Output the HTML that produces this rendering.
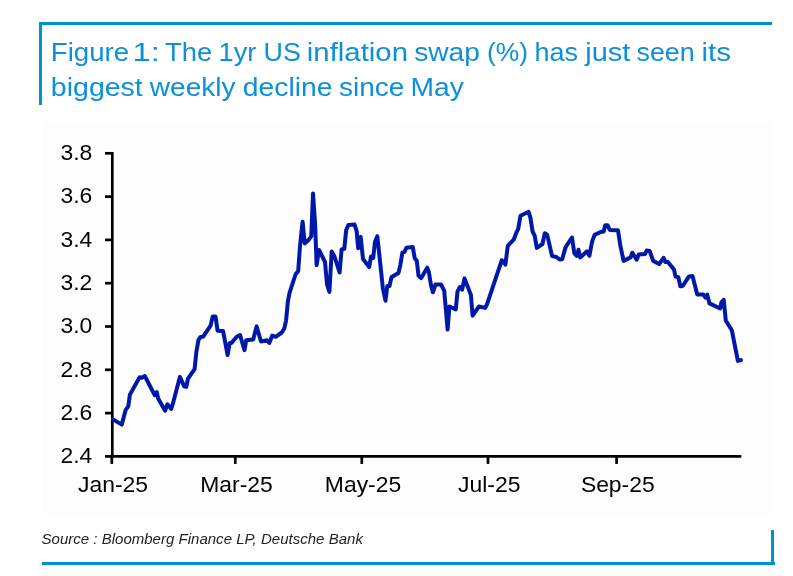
<!DOCTYPE html>
<html><head><meta charset="utf-8"><title>Figure 1</title>
<style>
html,body{margin:0;padding:0;background:#fff;}
body{width:793px;height:576px;position:relative;overflow:hidden;font-family:"Liberation Sans",sans-serif;}
.bl{position:absolute;background:#0090d7;}
.src{position:absolute;left:41.5px;top:528.5px;font-size:15px;line-height:20px;font-style:italic;color:#222;white-space:nowrap;letter-spacing:0.015px;}
</style></head><body>
<div class="bl" style="left:39px;top:22px;width:733px;height:3px"></div>
<div class="bl" style="left:39px;top:22px;width:3px;height:82.8px"></div>
<div class="bl" style="left:42px;top:562px;width:733px;height:3px"></div>
<div class="bl" style="left:771px;top:530px;width:3px;height:34px"></div>
<svg width="793" height="576" viewBox="0 0 793 576" style="position:absolute;left:0;top:0">
<rect x="42" y="122" width="729.5" height="392.2" fill="#fdfdfd"/>
<g font-family="Liberation Sans, sans-serif" font-size="26.6" fill="#0c90d8">
<text id="w0" transform="translate(50.76,60.8) scale(1.0412,1)">Figure</text>
<text id="w1" transform="translate(132.62,60.8) scale(1.2204,1)">1:</text>
<text id="w2" transform="translate(165.02,60.8) scale(1.0283,1)">The</text>
<text id="w3" transform="translate(218.62,60.8) scale(1.0215,1)">1yr</text>
<text id="w4" transform="translate(263.56,60.8) scale(1.0112,1)">US</text>
<text id="w5" transform="translate(306.79,60.8) scale(1.1042,1)">inflation</text>
<text id="w6" transform="translate(414.22,60.8) scale(1.0592,1)">swap</text>
<text id="w7" transform="translate(487.01,60.8) scale(0.9945,1)">(%)</text>
<text id="w8" transform="translate(534.45,60.8) scale(1.0150,1)">has</text>
<text id="w9" transform="translate(585.29,60.8) scale(1.0873,1)">just</text>
<text id="w10" transform="translate(636.55,60.8) scale(1.0073,1)">seen</text>
<text id="w11" transform="translate(701.51,60.8) scale(1.1107,1)">its</text>
<text id="w12" transform="translate(50.86,95.8) scale(1.0719,1)">biggest</text>
<text id="w13" transform="translate(149.86,95.8) scale(1.0556,1)">weekly</text>
<text id="w14" transform="translate(242.82,95.8) scale(1.0637,1)">decline</text>
<text id="w15" transform="translate(339.04,95.8) scale(1.0537,1)">since</text>
<text id="w16" transform="translate(410.50,95.8) scale(1.0633,1)">May</text>
</g>
<g stroke="#000" stroke-width="2.7" fill="none">
<line x1="112.3" y1="151.95000000000002" x2="112.3" y2="457.75"/>
<line x1="110.95" y1="456.4" x2="741.3" y2="456.4"/>
<line x1="105" y1="153.3" x2="112.3" y2="153.3"/>
<line x1="105" y1="196.6" x2="112.3" y2="196.6"/>
<line x1="105" y1="239.9" x2="112.3" y2="239.9"/>
<line x1="105" y1="283.2" x2="112.3" y2="283.2"/>
<line x1="105" y1="326.5" x2="112.3" y2="326.5"/>
<line x1="105" y1="369.8" x2="112.3" y2="369.8"/>
<line x1="105" y1="413.1" x2="112.3" y2="413.1"/>
<line x1="105" y1="456.4" x2="112.3" y2="456.4"/>
<line x1="111.8" y1="456.4" x2="111.8" y2="463.9"/>
<line x1="235.3" y1="456.4" x2="235.3" y2="463.9"/>
<line x1="361.8" y1="456.4" x2="361.8" y2="463.9"/>
<line x1="488.0" y1="456.4" x2="488.0" y2="463.9"/>
<line x1="616.6" y1="456.4" x2="616.6" y2="463.9"/>
</g>
<g font-family="Liberation Sans, sans-serif" font-size="22.9" fill="#000">
<text x="92.3" y="160.1" text-anchor="end">3.8</text>
<text x="92.3" y="203.4" text-anchor="end">3.6</text>
<text x="92.3" y="246.7" text-anchor="end">3.4</text>
<text x="92.3" y="290.0" text-anchor="end">3.2</text>
<text x="92.3" y="333.3" text-anchor="end">3.0</text>
<text x="92.3" y="376.6" text-anchor="end">2.8</text>
<text x="92.3" y="419.9" text-anchor="end">2.6</text>
<text x="92.3" y="463.2" text-anchor="end">2.4</text>
<text x="113.0" y="491.8" text-anchor="middle">Jan-25</text>
<text x="236.5" y="491.8" text-anchor="middle">Mar-25</text>
<text x="363.0" y="491.8" text-anchor="middle">May-25</text>
<text x="489.2" y="491.8" text-anchor="middle">Jul-25</text>
<text x="617.8" y="491.8" text-anchor="middle">Sep-25</text>
</g>
<polyline points="113.0,419.4 121.7,424.6 125.7,409.9 128.3,406.4 129.9,394.6 139.6,377.2 142.2,377.7 144.8,376.0 154.7,395.1 156.8,392.2 158.2,398.6 165.1,410.7 167.4,404.3 171.2,409.0 172.6,404.7 179.9,376.9 184.2,386.4 186.3,386.9 188.0,378.6 194.6,369.1 196.4,351.6 198.5,339.9 200.5,337.0 203.0,336.8 210.6,325.6 212.7,316.5 215.5,316.5 217.6,330.8 223.1,331.1 227.6,355.1 229.7,342.9 231.5,342.9 236.7,336.8 240.1,335.1 244.5,350.2 246.2,340.3 253.2,339.4 256.6,326.4 261.0,341.5 267.0,340.3 269.3,342.9 272.3,335.6 275.7,336.8 281.8,332.5 284.4,328.2 286.1,320.3 287.9,301.3 289.6,292.6 295.7,274.0 298.2,271.1 300.0,246.0 302.6,221.7 304.7,243.4 308.6,239.9 311.25,236.4 313.0,193.5 315.1,223.4 316.6,265.1 319.0,250.0 322.3,256.5 325.0,262.0 327.0,284.2 329.4,292.0 331.7,251.6 334.3,256.0 339.6,272.5 341.6,249.5 344.3,248.8 346.2,230.0 348.5,224.9 354.5,224.5 356.6,230.8 358.2,248.2 360.7,236.9 363.0,259.0 369.2,266.9 371.0,256.6 373.2,258.0 375.0,241.7 377.3,236.2 379.6,257.3 382.9,288.6 385.5,300.7 387.3,286.0 389.5,286.0 391.6,276.9 398.5,272.9 400.3,265.1 402.4,252.6 404.6,251.8 406.4,247.8 412.8,246.9 414.7,258.2 416.8,260.8 418.5,275.6 421.1,278.2 427.2,267.7 428.9,272.3 431.0,285.3 432.9,292.3 435.5,284.5 441.0,284.5 444.2,290.6 445.9,309.7 447.6,329.6 449.4,306.5 455.8,309.3 457.5,291.4 459.8,287.1 462.2,289.7 464.5,278.4 470.9,294.9 472.6,315.7 478.9,306.5 485.3,307.9 487.0,304.4 501.8,260.2 505.4,264.6 507.8,245.8 513.9,239.3 516.5,232.3 518.2,228.9 520.5,215.8 528.6,211.8 530.4,217.6 532.6,231.5 534.7,235.8 536.8,247.9 542.5,244.0 544.8,233.2 547.2,234.9 552.1,256.1 556.4,257.0 559.9,259.6 562.2,259.2 565.6,247.1 572.0,237.5 574.3,253.2 576.7,255.8 578.5,249.7 580.2,257.5 586.8,251.4 589.4,255.8 592.0,241.9 594.6,234.9 600.7,232.0 603.7,231.5 605.2,225.2 607.5,225.2 609.8,230.0 618.0,230.3 620.2,244.9 623.6,260.9 630.6,257.4 632.3,252.7 636.7,259.7 638.75,254.5 645.0,254.1 646.7,250.5 649.7,251.0 653.2,260.9 659.2,264.0 663.6,257.9 665.3,261.9 667.9,261.9 674.0,269.6 675.6,276.6 678.4,277.3 680.35,286.3 682.7,286.0 689.0,276.4 692.5,276.1 697.25,294.5 703.35,294.6 705.5,297.7 707.2,294.6 709.45,303.4 720.2,308.5 721.4,302.4 723.7,299.8 725.8,320.5 731.8,330.2 737.9,360.9 741.0,360.1" fill="none" stroke="#0018a8" stroke-width="4.0" stroke-linejoin="round" stroke-linecap="round"/>
</svg>
<div class="src">Source : Bloomberg Finance LP, Deutsche Bank</div>
</body></html>
